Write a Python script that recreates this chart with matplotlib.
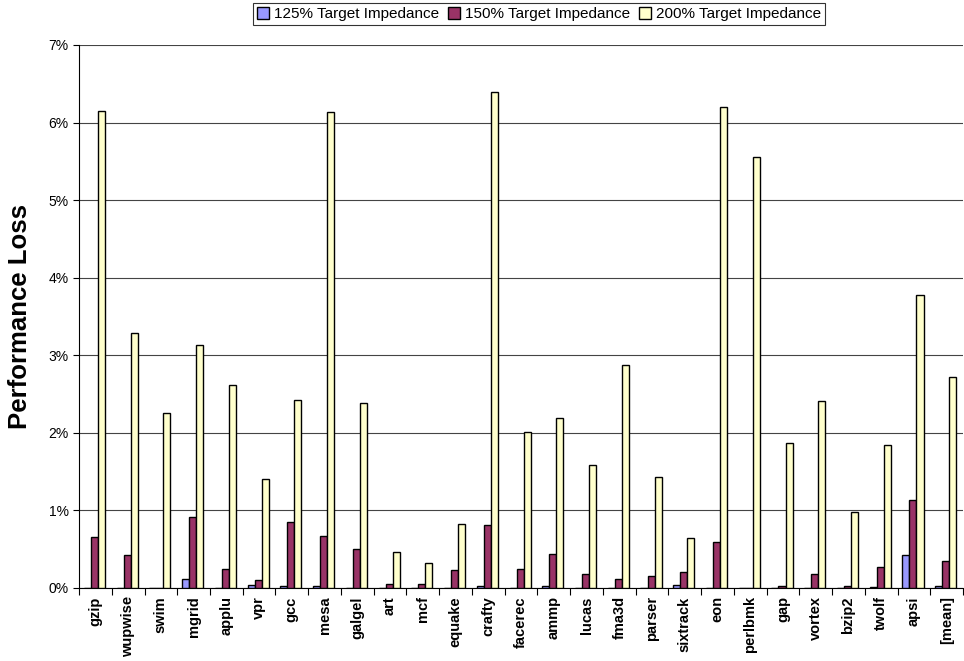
import numpy as np
import matplotlib
matplotlib.use("Agg")
import matplotlib.pyplot as plt
from matplotlib.ticker import FuncFormatter, FixedLocator

plt.rcParams["font.family"] = ["Liberation Sans", "DejaVu Sans"]

benchmarks = ["gzip", "wupwise", "swim", "mgrid", "applu", "vpr", "gcc", "mesa",
              "galgel", "art", "mcf", "equake", "crafty", "facerec", "ammp",
              "lucas", "fma3d", "parser", "sixtrack", "eon", "perlbmk", "gap",
              "vortex", "bzip2", "twolf", "apsi", "[mean]"]

# performance loss in percent
loss_125 = [0.00, 0.00, 0.00, 0.11, 0.00, 0.04, 0.02, 0.02, 0.00, 0.00, 0.00,
            0.00, 0.03, 0.00, 0.02, 0.00, 0.00, 0.00, 0.04, 0.00, 0.00, 0.00,
            0.00, 0.00, 0.01, 0.42, 0.02]
loss_150 = [0.66, 0.42, 0.00, 0.91, 0.25, 0.10, 0.85, 0.67, 0.50, 0.05, 0.05,
            0.23, 0.81, 0.24, 0.44, 0.18, 0.11, 0.15, 0.20, 0.59, 0.00, 0.03,
            0.18, 0.02, 0.27, 1.14, 0.35]
loss_200 = [6.15, 3.29, 2.26, 3.13, 2.62, 1.41, 2.42, 6.14, 2.39, 0.47, 0.32,
            0.83, 6.39, 2.01, 2.19, 1.58, 2.88, 1.43, 0.65, 6.20, 5.55, 1.87,
            2.41, 0.98, 1.84, 3.78, 2.72]

series = [
    ("125% Target Impedance", loss_125, "#9999FF"),
    ("150% Target Impedance", loss_150, "#993366"),
    ("200% Target Impedance", loss_200, "#FFFFCC"),
]

fig = plt.figure(figsize=(9.64, 6.61), dpi=100)
ax = fig.add_axes([0.082, 0.1105, 0.917, 0.8215])

x = np.arange(len(benchmarks))
w = 0.215
for i, (label, vals, color) in enumerate(series):
    ax.bar(x + (i - 1) * w - 0.03, vals, width=w, color=color, edgecolor="black",
           linewidth=1.0, label=label, zorder=3)

ax.set_xlim(-0.5, len(benchmarks) - 0.5)
ax.set_ylim(0, 7)
ax.set_yticks(range(8))
ax.yaxis.set_major_formatter(FuncFormatter(lambda v, p: f"{int(v)}%"))
ax.yaxis.grid(True, color="#444444", linewidth=0.8, zorder=0)
ax.tick_params(axis="y", labelsize=10, length=4, direction="out", width=0.8)

# category labels centred, tick marks on the boundaries
ax.set_xticks(x)
ax.set_xticklabels(benchmarks, rotation=90, fontsize=10.5, fontweight="bold")
ax.tick_params(axis="x", which="major", length=0, pad=6)
ax.xaxis.set_minor_locator(FixedLocator(np.arange(-0.5, len(benchmarks), 1.0)))
ax.tick_params(axis="x", which="minor", length=5, width=0.8, direction="out")

for s in ["top", "right"]:
    ax.spines[s].set_visible(False)
ax.spines["left"].set_linewidth(0.8)
ax.spines["bottom"].set_linewidth(0.8)

ax.set_ylabel("Performance Loss", fontsize=18.5, fontweight="bold", labelpad=12)

leg = fig.legend(loc="upper center", bbox_to_anchor=(0.559, 0.995), ncol=3,
                 fontsize=11, frameon=True, fancybox=False, edgecolor="black",
                 handlelength=0.8, handleheight=0.8, handletextpad=0.3,
                 columnspacing=0.6, borderpad=0.25, borderaxespad=0)
leg.get_frame().set_linewidth(0.8)

fig.savefig("out.png", dpi=100)
